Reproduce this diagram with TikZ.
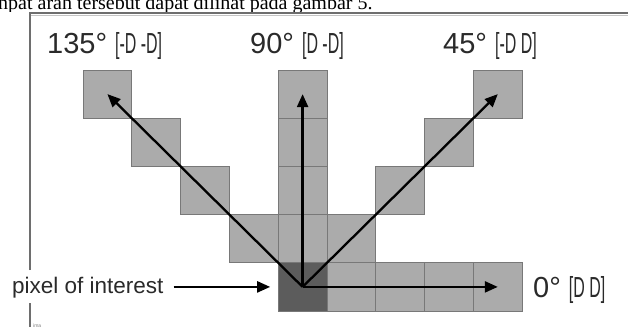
\documentclass[tikz,border=0pt]{standalone}
\usepackage{fontspec}
\usepackage{graphicx}
\setmainfont{Liberation Serif}
\newfontfamily\arialfont{Liberation Sans}
\usetikzlibrary{arrows.meta}
\definecolor{cellfill}{HTML}{ABABAB}
\definecolor{cellline}{HTML}{787878}
\definecolor{poifill}{HTML}{5C5C5C}
\definecolor{framecol}{HTML}{6E6E6E}
\definecolor{labeltext}{HTML}{2A2A2A}
\newcommand\narrowtxt[1]{\scalebox{0.55}[1]{#1}}
\tikzset{
  cell/.style={draw=cellline, fill=cellfill, line width=0.8pt, minimum width=48.8pt, minimum height=48.2pt, inner sep=0pt, outer sep=0pt},
  poicell/.style={cell, fill=poifill},
  vec/.style={line width=2.3pt, -{Triangle[length=13pt,width=11pt]}},
  lbl/.style={font=\arialfont\fontsize{29}{30}\selectfont, inner sep=0pt, anchor=base west, text=labeltext},
  poilbl/.style={font=\arialfont\fontsize{22.5}{24}\selectfont, inner sep=0pt, anchor=base west, text=labeltext},
  frameline/.style={draw=framecol, line width=1.6pt}
}
\begin{document}
\begin{tikzpicture}[x=1pt,y=-1pt]
\useasboundingbox (0,0) rectangle (628,327);
\clip (0,0) rectangle (628,327);
% caption fragment
\node[anchor=base west, inner sep=0pt, font=\fontsize{20}{22}\selectfont] (cap) at (-2,9) {npat arah tersebut dapat dilihat pada gambar 5.};
% frame
\fill[white] (0,12) rectangle (628,327);
\draw[draw=framecol!40, line width=1pt] (31,15.5) -- (628,15.5);
\draw[frameline] (30,270) -- (30,13) -- (628,13);
\draw[frameline] (30,303) -- (30,327);
\node[font=\arialfont\fontsize{5}{5}\selectfont, anchor=base west, inner sep=0pt, text=gray] (ima) at (33,327) {ima};
% cells
\foreach \i/\j in {0/0,1/1,2/2,3/3,4/0,4/1,4/2,4/3,8/0,7/1,6/2,5/3,5/4,6/4,7/4,8/4}
  \node[cell] (c\i\j) at ({107.4+48.8*\i},{94.1+48.2*\j}) {};
\node[poicell] (c44) at ({107.4+48.8*4},{94.1+48.2*4}) {};
% labels
\node[lbl] (l135) at (47,53) {135° \narrowtxt{[-D -D]}};
\node[lbl] (l90) at (250,53) {90° \narrowtxt{[D -D]}};
\node[lbl] (l45) at (443,53) {45° \narrowtxt{[-D D]}};
\node[lbl] (l0) at (533,297) {0° \narrowtxt{[D D]}};
\node[poilbl] (poi) at (12,293) {pixel of interest};
% arrows
\draw[vec] (c44.center) -- (c00.center);
\draw[vec] (c44.center) -- (c40.center);
\draw[vec] (c44.center) -- (c80.center);
\draw[vec] (c44.center) -- (c84.center);
\draw[vec, shorten <=10pt, shorten >=8pt] (poi.east |- c44.west) -- (c44.west);
\end{tikzpicture}
\end{document}
